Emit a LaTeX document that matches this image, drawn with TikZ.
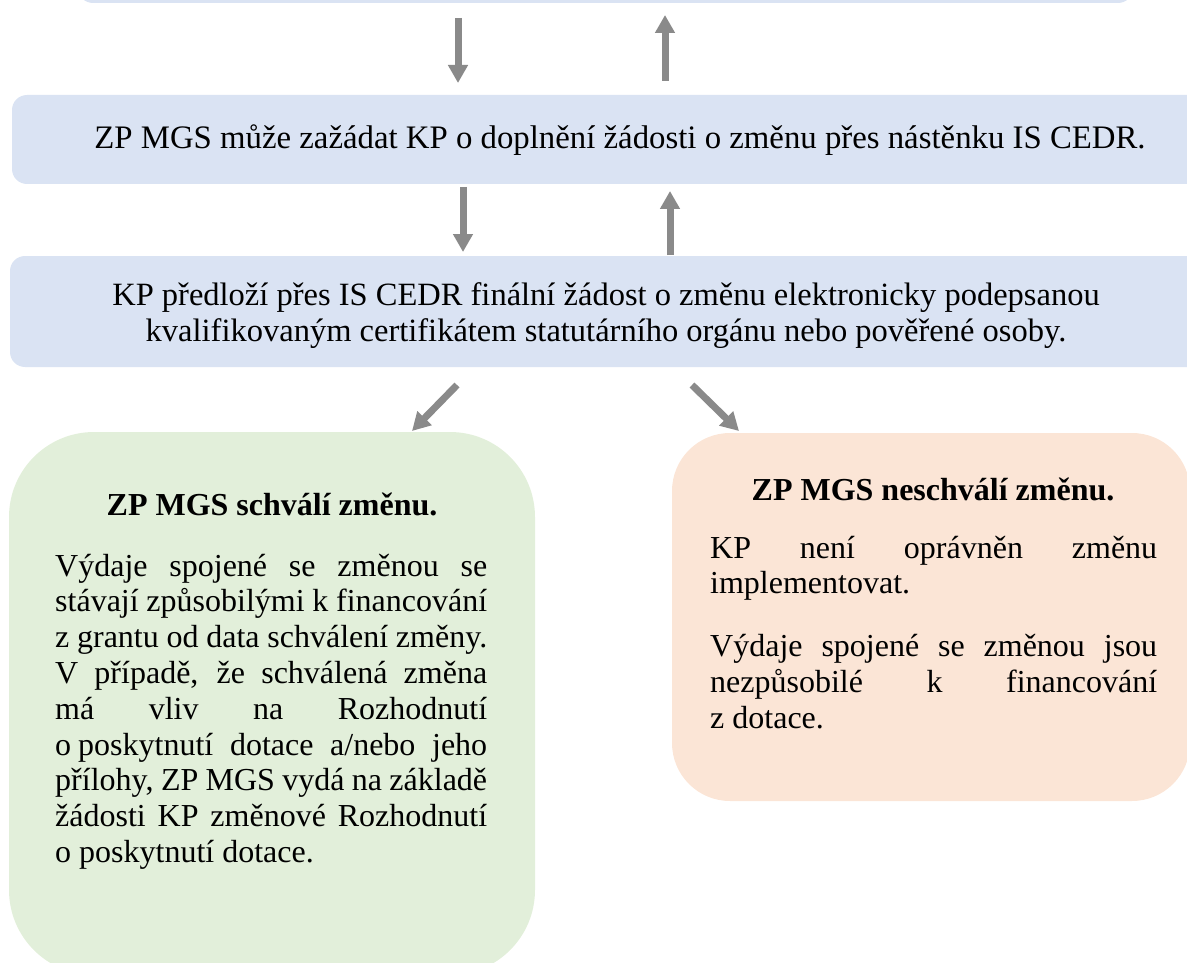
\documentclass[tikz,border=0pt]{standalone}
\usepackage{fontspec}
\setmainfont{Liberation Serif}
\newfontfamily\tnr{Liberation Serif}
\usetikzlibrary{arrows.meta}
\definecolor{boxblue}{HTML}{DAE3F3}
\definecolor{boxgreen}{HTML}{E2EFDA}
\definecolor{boxsalmon}{HTML}{FBE5D6}
\definecolor{arrowgray}{HTML}{8A8A8A}
\newcommand{\jl}[1]{\makebox[\linewidth][s]{#1}\par}
\newcommand{\bodyfont}{\tnr\fontsize{32}{35.8}\selectfont}
\newcommand{\topfont}{\tnr\fontsize{32.8}{36}\selectfont}
\newcommand{\midfont}{\tnr\fontsize{32.5}{36}\selectfont}
\tikzset{
  box/.style={draw=none, inner sep=0pt, anchor=center},
  txt/.style={inner sep=0pt, font=\bodyfont},
  toptxt/.style={inner sep=0pt, font=\topfont},
  arr/.style={draw=arrowgray, line width=7pt, -{Triangle[length=18pt,width=19pt]}},
}
\begin{document}
\begin{tikzpicture}[x=1pt,y=-1pt]
\useasboundingbox (0,0) rectangle (1187,963);
\clip (0,0) rectangle (1187,963);
% boxes
\node[box, fill=boxblue, rounded corners=15pt, minimum width=1055pt, minimum height=63pt] (b1) at (605.5,-28.5) {};
\node[box, fill=boxblue, rounded corners=15pt, minimum width=1198pt, minimum height=89pt] (b2) at (611,139.5) {};
\node[box, fill=boxblue, rounded corners=15pt, minimum width=1200pt, minimum height=111pt] (b3) at (610,311.5) {};
\node[box, fill=boxgreen, rounded corners=85pt, minimum width=526pt, minimum height=543pt] (b4) at (272,703.5) {};
\node[box, fill=boxsalmon, rounded corners=58pt, minimum width=518pt, minimum height=368pt] (b5) at (931,617) {};
% texts
\node[toptxt] (t2) at (620,140) {ZP MGS může zažádat KP o doplnění žádosti o změnu přes nástěnku IS CEDR.};
\node[inner sep=0pt, font=\midfont, align=center] (t3) at (606,316) {KP předloží přes IS CEDR finální žádost o změnu elektronicky podepsanou\\kvalifikovaným certifikátem statutárního orgánu nebo pověřené osoby.};
\node[txt, font=\bodyfont\bfseries] (t4h) at (272,504) {ZP MGS schválí změnu.};
\node[txt, anchor=base west] (t4) at (55,576) {\parbox[t]{432pt}{\bodyfont\parindent=0pt
\jl{Výdaje spojené se změnou se}
\jl{stávají způsobilými k financování}
\jl{z grantu od data schválení změny.}
\jl{V případě, že schválená změna}
\jl{má vliv na Rozhodnutí}
\jl{o\hspace{0.22em}poskytnutí dotace a/nebo jeho}
\jl{přílohy, ZP MGS vydá na základě}
\jl{žádosti KP změnové Rozhodnutí}
o poskytnutí dotace.\par}};
\node[txt, font=\bodyfont\bfseries] (t5h) at (933,489) {ZP MGS neschválí změnu.};
\node[txt, anchor=base west] (t5) at (710,558) {\parbox[t]{447pt}{\bodyfont\parindent=0pt
\jl{KP není oprávněn změnu}
implementovat.\par\vspace{27pt}
\jl{Výdaje spojené se změnou jsou}
\jl{nezpůsobilé k financování}
z dotace.\par}};
% arrows
\coordinate (a1s) at (458,18);  \coordinate (a1e) at (458,83);
\coordinate (a2s) at (665,81);  \coordinate (a2e) at (665,15);
\coordinate (a3s) at (463,187); \coordinate (a3e) at (463,252);
\coordinate (a4s) at (670,255); \coordinate (a4e) at (670,191);
\coordinate (a5s) at (457,385); \coordinate (a5e) at (412,431);
\coordinate (a6s) at (692,385); \coordinate (a6e) at (739,431);
\draw[arr] (a1s) -- (a1e);
\draw[arr] (a2s) -- (a2e);
\draw[arr] (a3s) -- (a3e);
\draw[arr] (a4s) -- (a4e);
\draw[arr] (a5s) -- (a5e);
\draw[arr] (a6s) -- (a6e);
\end{tikzpicture}
\end{document}
